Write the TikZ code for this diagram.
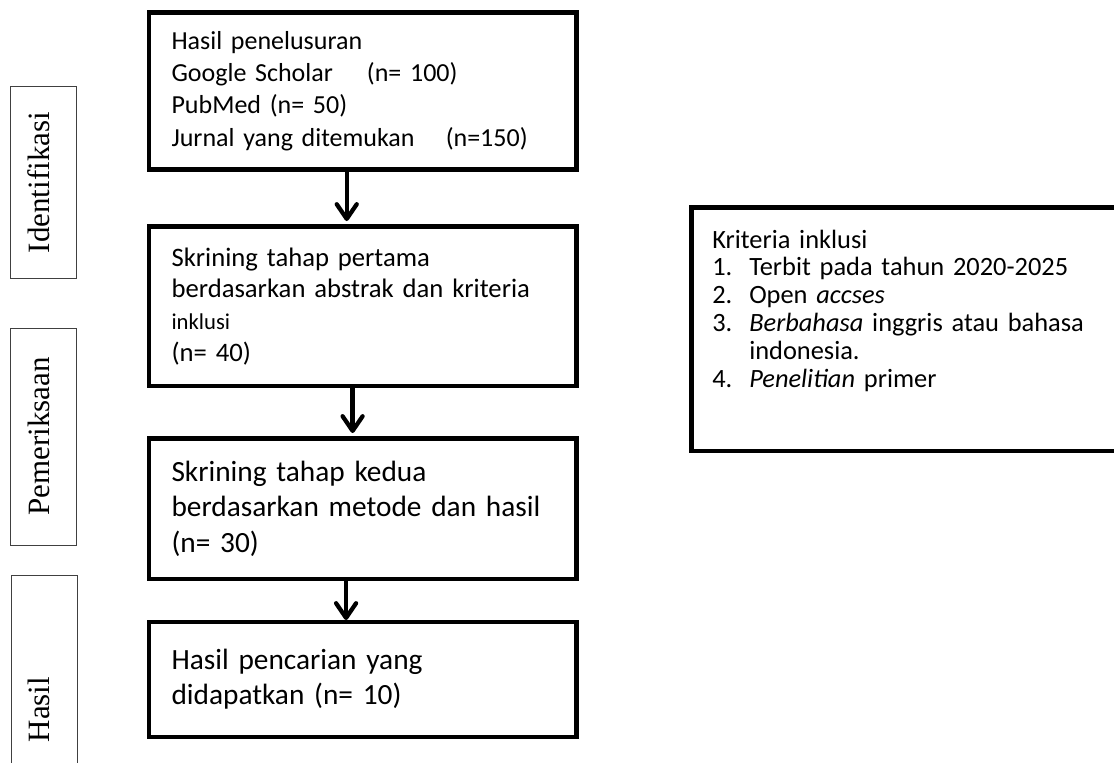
\documentclass[tikz,border=0pt]{standalone}
\usepackage{fontspec}
\setmainfont{Carlito}
\newfontfamily\tahapfont{Liberation Serif}
\usetikzlibrary{positioning,arrows.meta}

\begin{document}
\begin{tikzpicture}
[
    x=0.75pt, y=-0.75pt,
    kotak/.style={draw, line width=3.4pt, outer sep=0pt, inner xsep=16.9pt, inner ysep=0pt,
        text width=286.8pt, minimum width=320.6pt, align=left},
    tahap/.style={draw=black!75, line width=0.75pt, rotate=90, outer sep=0pt,
        minimum height=49.5pt, text depth=7.5pt, font=\tahapfont\fontsize{23.25}{28}\selectfont},
    panah/.style={line width=3.2pt, -{Straight Barb[length=11pt,width=15pt,round]}, shorten >=4pt},
]
\useasboundingbox (0,0) rectangle (1114,763);

\node[kotak, anchor=north west, minimum height=117.5pt, font=\fontsize{19.5}{24.2}\selectfont]
    (telusur) at (149,12.7)
    {Hasil penelusuran\\
     \makebox[146.6pt][l]{Google Scholar}(n= 100)\\
     PubMed (n= 50)\\
     \makebox[205.7pt][l]{Jurnal yang ditemukan}(n=150)};
\node[kotak, below=42.75pt of telusur, minimum height=119.8pt, font=\fontsize{20}{23.8}\selectfont]
    (skrining1)
    {Skrining tahap pertama\\
     berdasarkan abstrak dan kriteria\\
     {\fontsize{17}{23.8}\selectfont inklusi}\\
     (n= 40)};
\node[kotak, below=39.2pt of skrining1, minimum height=105.5pt, font=\fontsize{22}{26.4}\selectfont]
    (skrining2)
    {Skrining tahap kedua\\
     berdasarkan metode dan hasil\\
     (n= 30)};
\node[kotak, below=32.25pt of skrining2, minimum height=86.25pt, font=\fontsize{22}{26.4}\selectfont]
    (didapat)
    {Hasil pencarian yang\\
     didapatkan (n= 10)};

\draw[panah] ([xshift=-12pt]telusur.south) -- ([xshift=-12pt]skrining1.north);
\draw[panah] ([xshift=-7.6pt]skrining1.south) -- ([xshift=-7.6pt]skrining2.north);
\draw[panah, shorten >=1.5pt] ([xshift=-12.5pt]skrining2.south) -- ([xshift=-12.5pt]didapat.north);

\node[draw, line width=3.4pt, outer sep=0pt, anchor=north west, minimum width=325pt, minimum height=182.6pt]
    (kriteria) at (691.5,207.5) {};
\node[anchor=base west, inner sep=0pt, text width=300pt, align=left, font=\fontsize{19.8}{20.85}\selectfont]
    (kriteriateks) at (712,248)
    {Kriteria inklusi\\
     \makebox[27.75pt][l]{1.}Terbit pada tahun 2020-2025\\
     \makebox[27.75pt][l]{2.}Open \textit{accses}\\
     \makebox[27.75pt][l]{3.}\textit{Berbahasa} inggris atau bahasa\\
     \hspace*{27.75pt}indonesia.\\
     \makebox[27.75pt][l]{4.}\textit{Penelitian} primer};

\node[tahap, minimum width=143.25pt] (identifikasi) at (43.5,182.5) {Identifikasi};
\node[tahap, minimum width=162.75pt] (pemeriksaan) at (43.5,436.5) {Pemeriksaan};
\node[tahap, minimum width=201.75pt] (hasil) at (44,709.5) {Hasil};
\end{tikzpicture}
\end{document}
